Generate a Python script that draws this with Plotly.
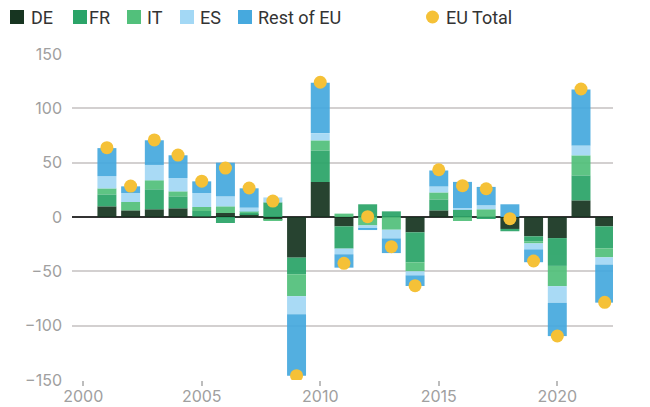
import plotly.graph_objects as go

years = list(range(2001, 2023))
de =   [9.8, 6.1, 7.1, 8.0, 0.5, 3.7, 2.5, -2.5, -37.4, 32.2, -8.6, 0.0, 0.0, -14.1, 6.1, 0.0, 0.0, -11.0, -17.8, -19.4, 15.3, -8.6]
fr =   [11.0, 0.0, 18.4, 11.0, 5.0, -5.5, 1.2, 13.5, -15.3, 29.1, -20.5, 11.7, 5.2, -27.6, 10.1, 7.1, -1.8, -2.1, -4.5, -25.6, 23.0, -20.2]
it =   [5.5, 7.7, 8.3, 4.6, 3.7, 6.1, 1.2, -1.2, -20.2, 9.2, 3.1, -7.7, -11.7, -8.3, 6.4, -3.7, 7.1, 0.0, -2.0, -18.7, 18.4, -8.3]
es =   [11.3, 8.3, 14.1, 12.3, 12.9, 9.2, 3.7, 4.5, -16.6, 6.7, -5.2, -3.1, -8.0, -3.7, 5.5, 1.2, 3.7, 0.0, -5.5, -15.3, 9.2, -6.7]
rest = [25.8, 6.1, 22.7, 20.9, 10.7, 31.0, 17.8, 0.0, -56.7, 46.3, -12.3, -1.2, -13.5, -9.8, 14.7, 24.0, 16.9, 11.7, -11.8, -30.6, 51.5, -35.0]
eu_total = [63.8, 28.5, 70.9, 57.0, 33.0, 45.0, 26.7, 14.7, -146.0, 124.0, -42.6, 0.3, -27.3, -63.2, 43.5, 28.8, 26.0, -1.5, -40.5, -109.5, 117.8, -78.5]

series = [
    ("DE", de, "#173521"),
    ("FR", fr, "#2ba468"),
    ("IT", it, "#52c07b"),
    ("ES", es, "#a3d8f5"),
    ("Rest of EU", rest, "#46a9de"),
]
total_name = "EU Total"
total_color = "#f5c137"

FONT = "Inter"
LEG_FONT = "Roboto"
OFF = 8  # page body margin
W, H = 642, 399
ML, MR, MT, MB = 64, 37, 46, 27
PW, PH = W - ML - MR, H - MT - MB

def px_x(p):
    return (p - OFF - ML) / PW

def px_y(p):
    return 1 - (p - OFF - MT) / PH

fig = go.Figure()
for name, vals, col in series:
    fig.add_trace(go.Bar(
        x=years, y=vals, name=name,
        marker=dict(color=col, line=dict(width=0)),
        opacity=0.93, showlegend=False,
    ))

fig.add_trace(go.Scatter(
    x=years, y=eu_total, name=total_name, mode="markers",
    marker=dict(color=total_color, size=13, line=dict(width=0)),
    showlegend=False,
))

# custom legend (layout only)
legend_sq_x = [10, 73, 127, 180, 238]
legend_txt_x = [31, 89, 147, 200, 258]
shapes = []
annotations = []
for (name, _, col), sx, tx in zip(series, legend_sq_x, legend_txt_x):
    shapes.append(dict(type="rect", xref="paper", yref="paper",
                       x0=px_x(sx), x1=px_x(sx + 14), y0=px_y(24), y1=px_y(10),
                       fillcolor=col, line=dict(width=0)))
    annotations.append(dict(text=name, xref="paper", yref="paper",
                            x=px_x(tx - 2), y=px_y(17), xanchor="left", yanchor="middle",
                            showarrow=False, font=dict(size=18, color="#333333", family=LEG_FONT)))
shapes.append(dict(type="circle", xref="paper", yref="paper",
                   x0=px_x(426), x1=px_x(439), y0=px_y(23.5), y1=px_y(10.5),
                   fillcolor=total_color, line=dict(width=0)))
annotations.append(dict(text=total_name, xref="paper", yref="paper",
                        x=px_x(444), y=px_y(17), xanchor="left", yanchor="middle",
                        showarrow=False, font=dict(size=18, color="#333333", family=LEG_FONT)))

fig.update_layout(
    width=W, height=H,
    margin=dict(l=ML, r=MR, t=MT, b=MB, autoexpand=False),
    barmode="relative",
    bargap=0.2,
    plot_bgcolor="white",
    paper_bgcolor="white",
    font=dict(family=FONT, color="#333333"),
    showlegend=False,
    shapes=shapes,
    annotations=annotations,
)

fig.update_xaxes(
    range=[1999.527, 2022.35],
    tickvals=[2000, 2005, 2010, 2015, 2020],
    ticktext=["2000", "2005", "2010", "2015", "2020"],
    ticks="outside", ticklen=5, tickwidth=2, tickcolor="#bdbdbd",
    ticklabelstandoff=-3,
    tickfont=dict(size=16, color="#a0a0a0", family=FONT),
    showgrid=False, zeroline=False, showline=False, automargin=False,
)
fig.update_yaxes(
    range=[-150, 150],
    tickvals=[-150, -100, -50, 0, 50, 100, 150],
    tickfont=dict(size=16, color="#a0a0a0", family=FONT),
    ticks="", ticklabelstandoff=9,
    showgrid=True, gridcolor="#d3d0d0", gridwidth=2,
    zeroline=True, zerolinecolor="#333333", zerolinewidth=2,
    showline=False, automargin=False,
)

fig.write_html("out.html")
